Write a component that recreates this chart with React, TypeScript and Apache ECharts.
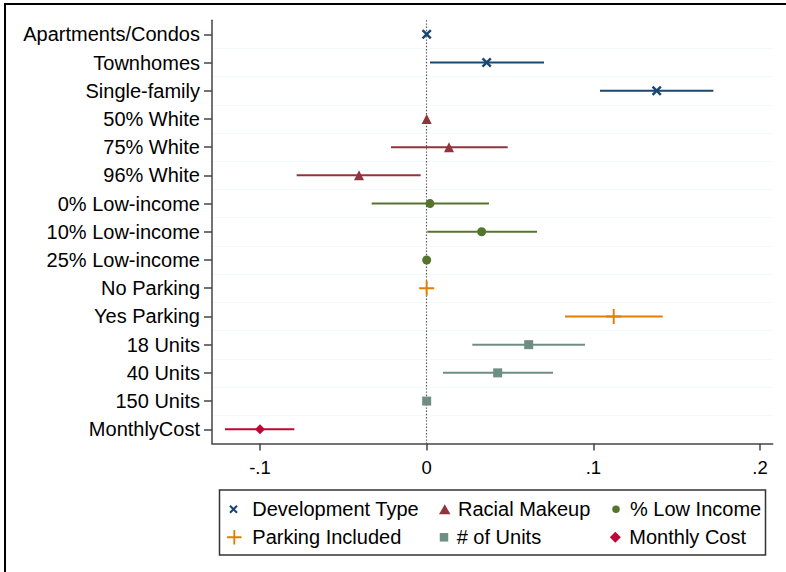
import React, { useEffect, useRef } from 'react';
import * as echarts from 'echarts';

const FONT = '"Liberation Sans", Arial, Helvetica, sans-serif';

// Rows, top to bottom
const categories = [
  'Apartments/Condos', 'Townhomes', 'Single-family',
  '50% White', '75% White', '96% White',
  '0% Low-income', '10% Low-income', '25% Low-income',
  'No Parking', 'Yes Parking',
  '18 Units', '40 Units', '150 Units',
  'MonthlyCost',
];
// point estimates and 95% CI bounds (null = reference category, no interval)
const estimates = [0, 0.036, 0.138, 0, 0.0134, -0.0406, 0.002, 0.033, 0, 0, 0.1122, 0.0612, 0.0426, 0, -0.1];
const ciLower = [null, 0.002, 0.104, null, -0.0214, -0.078, -0.033, 0.0004, null, null, 0.083, 0.0274, 0.0098, null, -0.121];
const ciUpper = [null, 0.0704, 0.172, null, 0.0486, -0.0036, 0.0374, 0.0662, null, null, 0.1416, 0.095, 0.0758, null, -0.0794];
const categoryGroup = [0, 0, 0, 1, 1, 1, 2, 2, 2, 3, 3, 4, 4, 4, 5];

const groupNames = ['Development Type', 'Racial Makeup', '% Low Income', 'Parking Included', '# of Units', 'Monthly Cost'];
const groupColors = ['#1a476f', '#90353b', '#55752f', '#e37e00', '#6e8e84', '#c10534'];

const xTickValues = [-0.1, 0, 0.1, 0.2];
const xTickLabels = ['-.1', '0', '.1', '.2'];

const SYM_X = 'path://M0,1.7L1.7,0L5,3.3L8.3,0L10,1.7L6.7,5L10,8.3L8.3,10L5,6.7L1.7,10L0,8.3L3.3,5Z';
const SYM_TRI = 'path://M5,0L10,8.7L0,8.7Z';
const SYM_CIRCLE = 'path://M5,0A5,5,0,1,1,5,10A5,5,0,1,1,5,0Z';
const SYM_PLUS = 'path://M6.1,0H7.9V6.1H14V7.9H7.9V14H6.1V7.9H0V6.1H6.1Z';
const SYM_SQUARE = 'path://M0,0H10V10H0Z';
const SYM_DIAMOND = 'path://M5,0L10,5L5,10L0,5Z';
const groupSymbols = [SYM_X, SYM_TRI, SYM_CIRCLE, SYM_PLUS, SYM_SQUARE, SYM_DIAMOND];
const groupSymbolSizes = [10, 10, 9, 15, 9, 10];

// legend layout: [iconCenterX, textStartX, rowCenterY, iconSize]
const legendLayout = [
  [233.5, 252.3, 509.3, 8.5],
  [444, 457.3, 509.3, 10],
  [616, 630, 509.3, 7.5],
  [234.3, 252.3, 537.3, 14.5],
  [444, 456.7, 537.3, 8.5],
  [615.3, 629.3, 537.3, 11],
];

export default function App() {
  const ref = useRef<HTMLDivElement>(null);
  useEffect(() => {
    if (!ref.current) return;
    const chart = echarts.init(ref.current, null, { renderer: 'svg' });

    const series: any[] = [];
    groupNames.forEach((name, g) => {
      const idx = categories.map((_, i) => i).filter((i) => categoryGroup[i] === g);
      const color = groupColors[g];
      series.push({
        type: 'custom',
        name: name + ' CI',
        z: 2,
        silent: true,
        encode: { x: [0, 1], y: 2 },
        data: idx.filter((i) => ciLower[i] !== null).map((i) => [ciLower[i], ciUpper[i], categories[i]]),
        renderItem: (params: any, api: any) => {
          const p1 = api.coord([api.value(0), api.value(2)]);
          const p2 = api.coord([api.value(1), api.value(2)]);
          return {
            type: 'line',
            shape: { x1: p1[0], y1: p1[1], x2: p2[0], y2: p2[1] },
            style: { stroke: color, lineWidth: 2 },
          };
        },
      });
      const s: any = {
        type: 'scatter',
        name,
        z: 3,
        symbol: groupSymbols[g],
        symbolSize: groupSymbolSizes[g],
        itemStyle: { color, opacity: 1 },
        emphasis: { disabled: true },
        data: idx.map((i) => [estimates[i], categories[i]]),
      };
      if (g === 0) {
        s.markLine = {
          silent: true,
          symbol: ['none', 'none'],
          label: { show: false },
          lineStyle: { color: '#555', type: [1.4, 1.8], width: 1.2 },
          emphasis: { disabled: true },
          data: [{ xAxis: 0 }],
          z: 1,
        };
      }
      series.push(s);
    });

    const legends = groupNames.map((name, g) => {
      const [cx, tx, cy, size] = legendLayout[g];
      const w = 2 * (tx - cx - 5);
      return {
        show: true,
        data: [{ name, icon: groupSymbols[g] }],
        left: cx - size / 2,
        top: cy - 11,
        orient: 'horizontal',
        itemWidth: w,
        itemHeight: size,
        itemGap: 0,
        padding: 0,
        symbolKeepAspect: true,
        selectedMode: false,
        textStyle: { fontSize: 20, color: '#000', fontFamily: FONT, lineHeight: 22 },
      };
    });

    const axisColor = '#444';
    chart.setOption({
      animation: false,
      backgroundColor: '#fff',
      textStyle: { fontFamily: FONT },
      grid: { left: 212, right: 13.3, top: 20.2, bottom: 128.6, containLabel: false, outerBoundsMode: 'none' },
      xAxis: {
        type: 'value',
        min: -0.1288,
        max: 0.2076,
        splitLine: { show: false },
        axisLine: { show: true, onZero: false, lineStyle: { color: axisColor, width: 1.5 } },
        axisTick: { show: true, customValues: xTickValues, length: 7, lineStyle: { color: axisColor, width: 1.5 } },
        axisLabel: {
          customValues: xTickValues,
          formatter: (v: number) => {
            const k = xTickValues.findIndex((t) => Math.abs(t - v) < 1e-9);
            return k >= 0 ? xTickLabels[k] : '';
          },
          fontSize: 18.5,
          color: '#000',
          margin: 15,
          fontFamily: FONT,
        },
      },
      yAxis: {
        type: 'category',
        data: categories,
        inverse: true,
        boundaryGap: true,
        axisLine: { show: true, onZero: false, lineStyle: { color: axisColor, width: 1.5 } },
        axisTick: { show: true, alignWithLabel: true, length: 8, lineStyle: { color: axisColor, width: 1.5 } },
        axisLabel: { fontSize: 20, color: '#000', margin: 12, fontFamily: FONT, interval: 0, padding: [6, 0, 0, 0] },
        splitLine: { show: true, showMinLine: false, showMaxLine: false, lineStyle: { color: '#f3f8f9', width: 1 } },
      },
      legend: legends,
      graphic: [
        { type: 'line', shape: { x1: 4, y1: 4, x2: 786, y2: 4 }, style: { stroke: '#000', lineWidth: 2 }, silent: true },
        { type: 'line', shape: { x1: 5, y1: 3, x2: 5, y2: 572 }, style: { stroke: '#000', lineWidth: 2 }, silent: true },
        { type: 'rect', shape: { x: 219.5, y: 490, width: 546, height: 65 }, style: { fill: 'none', stroke: '#333', lineWidth: 1.5 }, silent: true },
      ],
      series,
    });
    return () => chart.dispose();
  }, []);
  return <div ref={ref} style={{ position: 'absolute', left: 0, top: 0, width: 786, height: 572 }} />;
}
